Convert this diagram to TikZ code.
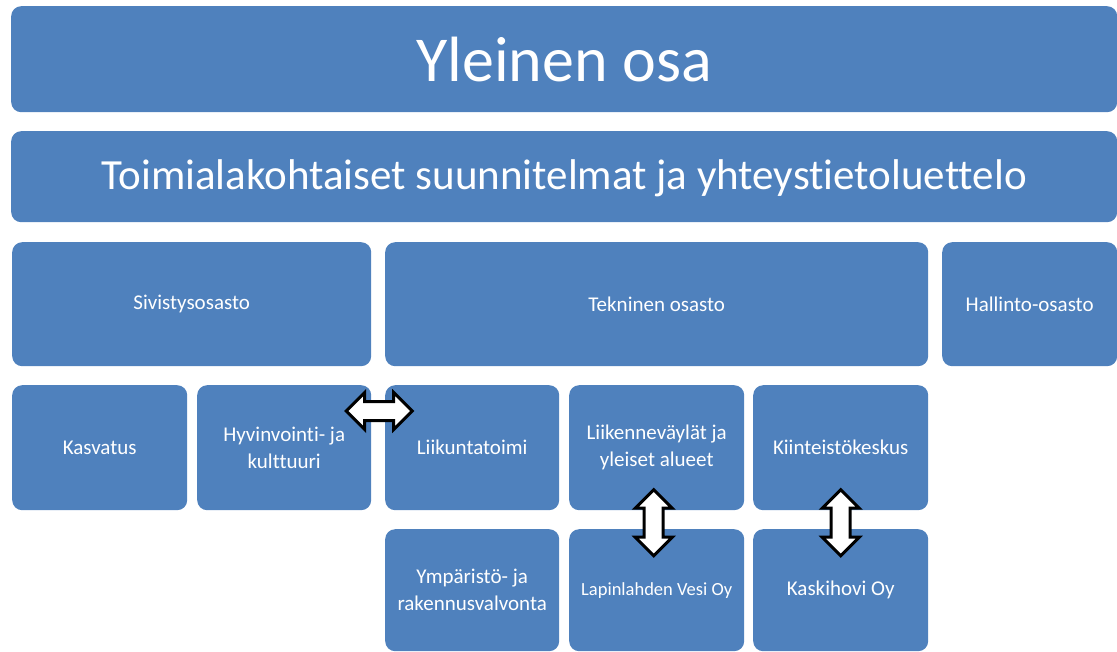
\documentclass[tikz,border=0pt]{standalone}
\usepackage{fontspec}
\setmainfont[Ligatures=NoCommon]{Carlito}
\usepackage{xcolor}
\usetikzlibrary{shapes.arrows, positioning, calc}

\definecolor{boxblue}{HTML}{4F81BD}

\begin{document}
\begin{tikzpicture}[
x=1pt, y=-1pt,
    unit/.style={rectangle, fill=boxblue, text=white, rounded corners=10pt, anchor=north west, inner sep=0pt, align=center, font=\fontsize{21}{27}\selectfont},
    bigunit/.style={unit, font=\fontsize{64}{70}\selectfont},
    midunit/.style={unit, font=\fontsize{43}{50}\selectfont},
    link/.style={double arrow, draw=black, fill=white, line width=3pt, inner xsep=0pt, inner ysep=8pt, minimum height=66pt, double arrow head extend=9pt, double arrow tip angle=90}
]
    \useasboundingbox (0,0) rectangle (1117,651);

    % Top levels
    \node[bigunit, minimum width=1106pt, minimum height=106pt] (yleinen) at (11,6) {Yleinen osa};
    \node[midunit, minimum width=1106pt, minimum height=91pt, text depth=4pt] (toimiala) at (11,131) {Toimialakohtaiset suunnitelmat ja yhteystietoluettelo};

    % Departments
    \node[unit, minimum width=359pt, minimum height=124pt] (sivistys) at (12,242) {Sivistysosasto};
    \node[unit, minimum width=543pt, minimum height=124pt] (tekninen) at (385,242) {Tekninen osasto};
    \node[unit, minimum width=175pt, minimum height=124pt] (hallinto) at (942,242) {Hallinto-osasto};

    % Units
    \node[unit, minimum width=175pt, minimum height=125pt] (kasvatus) at (12,385) {Kasvatus};
    \node[unit, minimum width=174pt, minimum height=125pt] (hyvinvointi) at (197,385) {Hyvinvointi- ja\\kulttuuri};
    \node[unit, minimum width=174pt, minimum height=125pt] (liikunta) at (385,385) {Liikuntatoimi};
    \node[unit, minimum width=175pt, minimum height=125pt] (liikenne) at (569,385) {Liikenneväylät ja\\yleiset alueet};
    \node[unit, minimum width=175pt, minimum height=125pt] (kiinteisto) at (753,385) {Kiinteistökeskus};

    % Lower row
    \node[unit, minimum width=174pt, minimum height=122pt] (ymparisto) at (385,529) {Ympäristö- ja\\rakennusvalvonta};
    \node[unit, minimum width=175pt, minimum height=122pt, font=\fontsize{18.5}{22}\selectfont] (vesi) at (569,529) {Lapinlahden Vesi Oy};
    \node[unit, minimum width=175pt, minimum height=122pt] (kaskihovi) at (753,529) {Kaskihovi Oy};

    % Links between units
    \node[link] (hlink) at ($(hyvinvointi.north east)!0.5!(liikunta.north west)+(1,26)$) {};
    \node[link, rotate=90] (vlink1) at ($(liikenne.south)!0.5!(vesi.north)+(-3,3)$) {};
    \node[link, rotate=90] (vlink2) at ($(kiinteisto.south)!0.5!(kaskihovi.north)+(0,3)$) {};

\end{tikzpicture}
\end{document}
